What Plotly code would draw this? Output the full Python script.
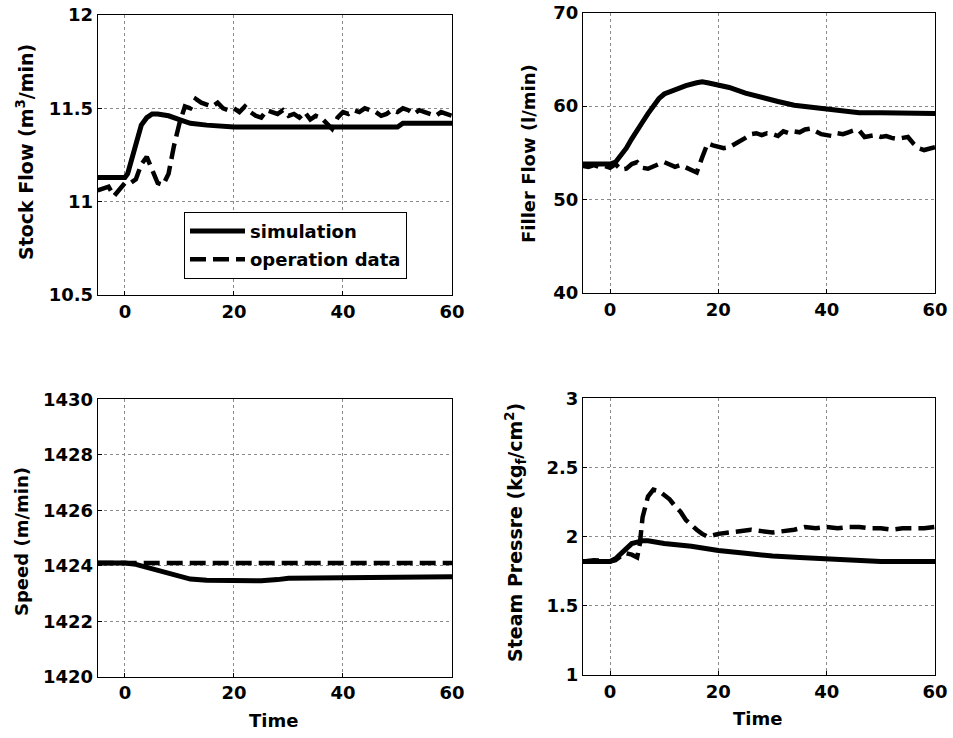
import plotly.graph_objects as go

# ---------------- data ----------------
stock_sim_x = [-5, 0, 0.5, 1, 1.5, 2, 2.5, 3, 4, 5, 6, 8, 10, 12, 15, 20, 30, 40, 50, 51, 60]
stock_sim_y = [11.13, 11.13, 11.15, 11.20, 11.26, 11.32, 11.37, 11.41, 11.45, 11.47, 11.47, 11.46,
               11.44, 11.42, 11.41, 11.40, 11.40, 11.40, 11.40, 11.42, 11.42]
stock_op_x = [-5, -4, -3, -2, -1, 0, 1, 2, 3, 4, 5, 6, 7, 8, 9, 10, 11, 12, 13, 14, 15, 16, 17, 18, 19,
              20, 21, 22, 23, 24, 25, 26, 27, 28, 29, 30, 31, 32, 33, 34, 35, 36, 37, 38, 39, 40, 41, 42,
              43, 44, 45, 46, 47, 48, 49, 50, 51, 52, 53, 54, 55, 56, 57, 58, 59, 60]
stock_op_y = [11.06, 11.07, 11.08, 11.03, 11.07, 11.10, 11.10, 11.12, 11.20, 11.24, 11.17, 11.10, 11.09,
              11.15, 11.30, 11.42, 11.51, 11.50, 11.55, 11.53, 11.52, 11.51, 11.53, 11.50, 11.49, 11.50,
              11.48, 11.51, 11.48, 11.46, 11.45, 11.49, 11.48, 11.47, 11.49, 11.46, 11.47, 11.45, 11.48,
              11.44, 11.46, 11.45, 11.42, 11.39, 11.45, 11.48, 11.47, 11.49, 11.48, 11.50, 11.49, 11.48,
              11.46, 11.47, 11.49, 11.48, 11.50, 11.49, 11.47, 11.49, 11.48, 11.47, 11.46, 11.48, 11.47, 11.46]

filler_sim_x = [-5, 0, 1, 2, 3, 4, 5, 6, 7, 8, 9, 10, 12, 14, 16, 17, 18, 20, 22, 25, 28, 31, 34, 37,
                40, 43, 46, 50, 55, 60]
filler_sim_y = [53.8, 53.8, 54.0, 54.7, 55.5, 56.5, 57.5, 58.3, 59.2, 60.1, 60.8, 61.3, 61.8, 62.2,
                62.5, 62.6, 62.5, 62.3, 62.0, 61.4, 60.9, 60.5, 60.1, 59.9, 59.7, 59.5, 59.3, 59.3, 59.2, 59.2]
filler_op_x = [-5, -4, -3, -2, -1, 0, 1, 2, 3, 4, 5, 6, 7, 8, 9, 10, 11, 12, 13, 14, 15, 16, 17, 18, 19,
               20, 21, 22, 23, 24, 25, 26, 27, 28, 29, 30, 31, 32, 33, 34, 35, 36, 37, 38, 39, 40, 41, 42,
               43, 44, 45, 46, 47, 48, 49, 50, 51, 52, 53, 54, 55, 56, 57, 58, 59, 60]
filler_op_y = [53.6, 53.5, 53.7, 53.5, 53.6, 53.4, 53.8, 53.2, 53.3, 53.8, 54.0, 53.4, 53.3, 53.6, 53.8,
               54.0, 53.8, 53.5, 53.7, 53.4, 53.1, 52.9, 54.5, 56.0, 55.8, 55.7, 55.5, 55.6, 55.9, 56.2,
               56.6, 57.0, 57.1, 56.9, 57.1, 57.0, 56.8, 57.3, 57.1, 57.3, 57.2, 57.5, 57.6, 57.3, 57.0,
               56.9, 56.8, 57.1, 57.0, 57.2, 57.4, 57.4, 56.7, 56.8, 56.9, 56.7, 56.8, 56.6, 56.5, 56.6,
               56.7, 56.0, 55.5, 55.3, 55.4, 55.6]

speed_sim_x = [-5, 0, 2, 4, 6, 8, 10, 12, 15, 20, 25, 28, 30, 35, 40, 45, 50, 55, 60]
speed_sim_y = [1424.1, 1424.1, 1424.05, 1423.95, 1423.85, 1423.75, 1423.63, 1423.52, 1423.48, 1423.46,
               1423.46, 1423.5, 1423.55, 1423.56, 1423.56, 1423.58, 1423.6, 1423.6, 1423.6]
speed_op_x = [-5, 0, 10, 20, 30, 40, 50, 60]
speed_op_y = [1424.1, 1424.1, 1424.1, 1424.1, 1424.1, 1424.1, 1424.1, 1424.1]

steam_sim_x = [-5, 0, 1, 2, 3, 4, 5, 6, 7, 10, 15, 20, 25, 30, 35, 40, 45, 47, 50, 55, 60]
steam_sim_y = [1.82, 1.82, 1.84, 1.88, 1.92, 1.95, 1.96, 1.97, 1.97, 1.95, 1.93, 1.90, 1.88, 1.86,
               1.85, 1.84, 1.83, 1.82, 1.82, 1.82, 1.82]
steam_op_x = [-5, -3, 0, 1, 2, 3, 4, 5, 5.5, 6, 7, 8, 9, 10, 11, 12, 13, 14, 15, 16, 17, 18, 19, 20,
              22, 24, 26, 28, 30, 32, 34, 36, 38, 40, 42, 44, 46, 48, 50, 52, 54, 56, 58, 60]
steam_op_y = [1.82, 1.83, 1.82, 1.83, 1.86, 1.88, 1.87, 1.85, 1.95, 2.14, 2.29, 2.34, 2.33, 2.30, 2.27,
              2.22, 2.18, 2.12, 2.08, 2.05, 2.02, 2.00, 2.01, 2.02, 2.03, 2.04, 2.05, 2.04, 2.03, 2.04,
              2.05, 2.07, 2.06, 2.07, 2.06, 2.07, 2.07, 2.06, 2.06, 2.05, 2.06, 2.06, 2.06, 2.07]

x_ticks = [0, 20, 40, 60]
stock_ticks = [10.5, 11, 11.5, 12]
stock_tick_text = ["10.5", "11", "11.5", "12"]
filler_ticks = [40, 50, 60, 70]
speed_ticks = [1420, 1422, 1424, 1426, 1428, 1430]
steam_ticks = [1, 1.5, 2, 2.5, 3]
steam_tick_text = ["1", "1.5", "2", "2.5", "3"]

series_names = ["simulation", "operation data"]

# ---------------- figure ----------------
FONT = "DejaVu Sans"
sim_line = dict(color="black", width=5)
op_line = dict(color="black", width=4.5, dash="16px,7px")

fig = go.Figure()
panels = [
    (stock_sim_x, stock_sim_y, stock_op_x, stock_op_y, "x", "y"),
    (filler_sim_x, filler_sim_y, filler_op_x, filler_op_y, "x2", "y2"),
    (speed_sim_x, speed_sim_y, speed_op_x, speed_op_y, "x3", "y3"),
    (steam_sim_x, steam_sim_y, steam_op_x, steam_op_y, "x4", "y4"),
]
for i, (sx, sy, ox, oy, xa, ya) in enumerate(panels):
    fig.add_trace(go.Scatter(x=ox, y=oy, mode="lines", line=op_line, name=series_names[1],
                             xaxis=xa, yaxis=ya, showlegend=(i == 0), legendrank=2,
                             legendgroup="op"))
    fig.add_trace(go.Scatter(x=sx, y=sy, mode="lines", line=sim_line, name=series_names[0],
                             xaxis=xa, yaxis=ya, showlegend=(i == 0), legendrank=1,
                             legendgroup="sim"))

tickfont = dict(family=FONT, size=18, color="black", weight="bold")
common = dict(showline=True, mirror=True, linecolor="black", linewidth=1, showgrid=True,
              gridcolor="#8a8a8a", griddash="dot", gridwidth=1, zeroline=False,
              ticks="inside", ticklen=4, tickcolor="black", tickfont=tickfont,
              automargin=False)

left_x = [97.7 / 953, 452 / 953]
right_x = [583 / 953, 935 / 953]

def xax(domain, anchor):
    return dict(domain=domain, anchor=anchor, range=[-5, 60], tickvals=x_ticks, **common)

def yax(domain, anchor, rng, tv, tt=None):
    d = dict(domain=domain, anchor=anchor, range=rng, tickvals=tv, **common)
    if tt is not None:
        d["ticktext"] = tt
    return d

fig.update_layout(
    template="none",
    width=953, height=738,
    margin=dict(l=0, r=0, t=0, b=0, pad=0, autoexpand=False),
    paper_bgcolor="white", plot_bgcolor="white",
    xaxis=xax(left_x, "y"),
    yaxis=yax([1 - 295 / 738, 1 - 15 / 738], "x", [10.5, 12], stock_ticks, stock_tick_text),
    xaxis2=xax(right_x, "y2"),
    yaxis2=yax([1 - 293 / 738, 1 - 12.7 / 738], "x2", [40, 70], filler_ticks),
    xaxis3=xax(left_x, "y3"),
    yaxis3=yax([1 - 676.7 / 738, 1 - 399.3 / 738], "x3", [1420, 1430], speed_ticks),
    xaxis4=xax(right_x, "y4"),
    yaxis4=yax([1 - 675 / 738, 1 - 398.3 / 738], "x4", [1, 3], steam_ticks, steam_tick_text),
    showlegend=True,
    legend=dict(x=184 / 953, y=1 - 211.7 / 738, xanchor="left", yanchor="top",
                bgcolor="white", bordercolor="black", borderwidth=1,
                font=dict(family=FONT, size=18, color="black", weight="bold"),
                traceorder="grouped", itemwidth=55, tracegroupgap=2,
                entrywidth=165, entrywidthmode="pixels"),
)

title_font = dict(family=FONT, size=18, color="black", weight="bold")
annots = [
    ("Stock Flow (m<sup>3</sup>/min)", 25, 152, -90, 19),
    ("Filler Flow (l/min)", 528, 154, -90, 18),
    ("Speed (m/min)", 21, 542, -90, 18),
    ("Steam Pressre (kg<sub>f</sub>/cm<sup>2</sup>)", 515, 533, -90, 19),
    ("Time", 273, 720, 0, 18),
    ("Time", 757, 718, 0, 18),
]
for text, px, py, ang, fs in annots:
    fig.add_annotation(text=text, x=px / 953, y=1 - py / 738, xref="paper", yref="paper",
                       xanchor="center", yanchor="middle", showarrow=False, textangle=ang,
                       font=dict(title_font, size=fs))

fig.write_html("out.html")
